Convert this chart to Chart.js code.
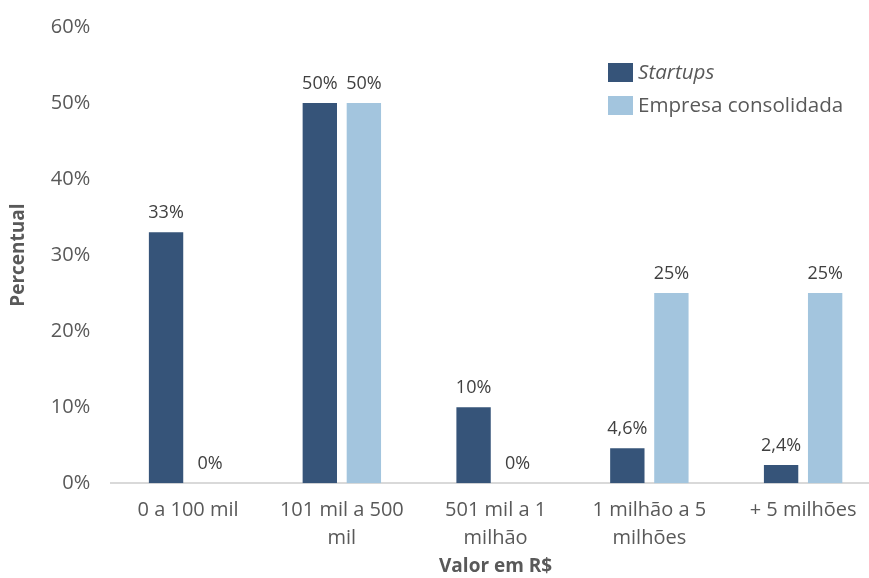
<!DOCTYPE html>
<html>
<head>
<meta charset="utf-8">
<script src="https://cdn.jsdelivr.net/npm/chart.js@4"></script>
<style>
  html, body { margin: 0; padding: 0; background: #ffffff; overflow: hidden; }
  #wrap { width: 880px; height: 578px; position: relative; }
</style>
</head>
<body>
<div id="wrap"><canvas id="c"></canvas></div>
<script>
// Faixas de valor (eixo x)
const categorias = [
  '0 a 100 mil',
  ['101 mil a 500', 'mil'],
  ['501 mil a 1', 'milhão'],
  ['1 milhão a 5', 'milhões'],
  '+ 5 milhões'
];
// Percentuais por grupo
const startups = [33, 50, 10, 4.6, 2.4];
const empresaConsolidada = [0, 50, 0, 25, 25];
// Marcas do eixo y
const yMin = 0, yMax = 60, yPasso = 10;

const corStartups = '#365479';
const corEmpresa = '#a3c5de';
const corTexto = '#595959';
const fonte = "'Open Sans', 'Noto Sans', sans-serif";

function fmt(v) {
  return String(v).replace('.', ',') + '%';
}

// Rótulos de valor acima de cada barra
const rotulosPlugin = {
  id: 'rotulos',
  afterDatasetsDraw(chart) {
    const ctx = chart.ctx;
    ctx.save();
    ctx.font = '18px ' + fonte;
    ctx.fillStyle = '#404040';
    ctx.textAlign = 'center';
    ctx.textBaseline = 'middle';
    chart.data.datasets.forEach((ds, i) => {
      chart.getDatasetMeta(i).data.forEach((bar, j) => {
        ctx.fillText(fmt(ds.data[j]), bar.x, bar.y - 19);
      });
    });
    ctx.restore();
  }
};

// Legenda no canto superior direito da área do gráfico
const legendaPlugin = {
  id: 'legendaInterna',
  afterDraw(chart) {
    const ctx = chart.ctx;
    const x0 = 608, y0 = 63, lin = 33;
    ctx.save();
    ctx.textBaseline = 'middle';
    ctx.textAlign = 'left';
    chart.data.datasets.forEach((ds, i) => {
      const y = y0 + i * lin;
      ctx.fillStyle = ds.backgroundColor;
      ctx.fillRect(x0, y, 25, 19);
      ctx.fillStyle = corTexto;
      ctx.font = (ds.italico ? 'italic ' : '') + '20.6px ' + fonte;
      ctx.fillText(ds.label, x0 + 30, y + 10);
    });
    ctx.restore();
  }
};

new Chart(document.getElementById('c'), {
  type: 'bar',
  data: {
    labels: categorias,
    datasets: [
      { label: 'Startups', data: startups, backgroundColor: corStartups, italico: true,
        categoryPercentage: 0.573, barPercentage: 0.78 },
      { label: 'Empresa consolidada', data: empresaConsolidada, backgroundColor: corEmpresa,
        categoryPercentage: 0.573, barPercentage: 0.78 }
    ]
  },
  options: {
    responsive: true,
    maintainAspectRatio: false,
    animation: false,
    layout: { padding: { top: 0, right: 0, bottom: 0, left: 7 } },
    plugins: {
      legend: { display: false },
      tooltip: { enabled: false }
    },
    scales: {
      x: {
        grid: { display: false, drawTicks: false },
        border: { display: true, color: '#d9d9d9', width: 2 },
        ticks: { color: corTexto, font: { family: fonte, size: 20, lineHeight: 1.4 }, padding: 13,
                 maxRotation: 0, autoSkip: false },
        title: { display: true, text: 'Valor em R$', color: corTexto,
                 font: { family: fonte, size: 19, weight: 'bold' }, padding: { top: -10, bottom: 0 } }
      },
      y: {
        min: yMin, max: yMax,
        grid: { display: false, drawTicks: false },
        border: { display: false },
        ticks: { stepSize: yPasso, color: corTexto, font: { family: fonte, size: 20, lineHeight: 0.6 }, padding: 21,
                 callback: v => v + '%' },
        title: { display: true, text: 'Percentual', color: corTexto,
                 font: { family: fonte, size: 19, weight: 'bold' }, padding: { top: 0, bottom: 0 } }
      }
    }
  },
  plugins: [rotulosPlugin, legendaPlugin]
});
</script>
</body>
</html>
